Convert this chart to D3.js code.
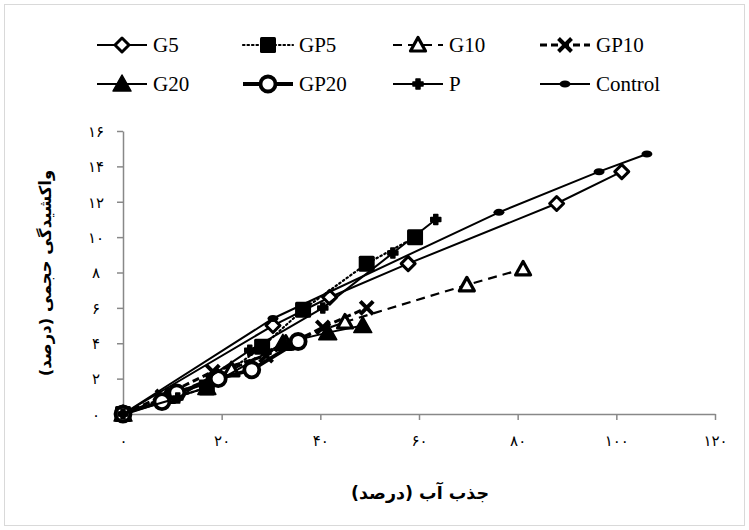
<!DOCTYPE html>
<html><head><meta charset="utf-8">
<script src="https://cdn.jsdelivr.net/npm/d3@7"></script>
<style>body{margin:0;background:#fff}svg{display:block}</style>
</head><body>
<script>
// ---- data ----
const seriesNames = ["G5","GP5","G10","GP10","G20","GP20","P","Control"];
const G5_x = [0, 30.4, 41.9, 57.8, 87.9, 101.1];
const G5_y = [0, 5.0, 6.6, 8.5, 11.9, 13.7];
const GP5_x = [0, 17.0, 28.2, 36.5, 49.4, 59.2];
const GP5_y = [0, 1.5, 3.8, 5.9, 8.5, 10.0];
const G10_x = [0, 9.0, 22.0, 33.0, 45.0, 69.7, 81.1];
const G10_y = [0, 1.0, 2.5, 4.0, 5.2, 7.3, 8.2];
const GP10_x = [0, 8.0, 18.2, 29.0, 40.5, 49.4];
const GP10_y = [0, 1.0, 2.4, 3.3, 4.9, 6.0];
const G20_x = [0, 17.0, 32.4, 41.5, 48.6];
const G20_y = [0, 1.5, 4.0, 4.6, 5.0];
const GP20_x = [0, 7.9, 10.9, 19.3, 26.1, 35.5];
const GP20_y = [0, 0.7, 1.2, 2.0, 2.5, 4.1];
const P_x = [0, 11.1, 25.7, 40.5, 54.7, 63.4];
const P_y = [0, 0.9, 3.6, 6.0, 9.1, 11.0];
const Control_x = [0, 30.4, 76.2, 96.5, 106.2];
const Control_y = [0, 5.4, 11.4, 13.7, 14.7];
const xTicks = [0, 20, 40, 60, 80, 100, 120];
const yTicks = [0, 2, 4, 6, 8, 10, 12, 14, 16];
const xTitle = "جذب آب (درصد)";
const yTitle = "واکشیدگی حجمی (درصد)";

const xs = {G5:G5_x,GP5:GP5_x,G10:G10_x,GP10:GP10_x,G20:G20_x,GP20:GP20_x,P:P_x,Control:Control_x};
const ys = {G5:G5_y,GP5:GP5_y,G10:G10_y,GP10:GP10_y,G20:G20_y,GP20:GP20_y,P:P_y,Control:Control_y};

const styles = {
  G5:{w:2, dash:null, marker:"diamond"},
  GP5:{w:2.2, dash:"1.5,3", cap:"round", marker:"square"},
  G10:{w:2.2, dash:"9,6", marker:"triOpen"},
  GP10:{w:3, dash:"7,4", marker:"x"},
  G20:{w:2, dash:null, marker:"triFill"},
  GP20:{w:3.8, dash:null, marker:"circle"},
  P:{w:2, dash:null, marker:"plusdot"},
  Control:{w:2, dash:null, marker:"ellipse"}
};

const fa = n => String(n).replace(/\d/g, d => "۰۱۲۳۴۵۶۷۸۹"[d]);

const W = 749, H = 530;
const svg = d3.select("body").append("svg").attr("width", W).attr("height", H);
svg.append("rect").attr("x",4.5).attr("y",4.5).attr("width",740).attr("height",521)
  .attr("fill","#fff").attr("stroke","#d9d9d9").attr("stroke-width",1);

const x = d3.scaleLinear().domain([0,120]).range([123,715]);
const y = d3.scaleLinear().domain([0,16]).range([414,131]);

// axes
const gx = svg.append("g").attr("transform","translate(0,414)")
  .call(d3.axisBottom(x).tickValues(xTicks).tickSize(6).tickSizeOuter(0).tickFormat(fa));
const gy = svg.append("g").attr("transform","translate(123,0)")
  .call(d3.axisLeft(y).tickValues(yTicks).tickSize(6).tickSizeOuter(0).tickFormat(fa));
[gx,gy].forEach(g=>{
  g.select(".domain").attr("stroke","#888").attr("stroke-width",1.5);
  g.selectAll(".tick line").attr("stroke","#888").attr("stroke-width",1.5);
  g.selectAll("text").attr("font-family","DejaVu Sans").attr("font-size",15).attr("fill","#000");
});
gx.selectAll("text").attr("dy",null).attr("y",32);
gy.selectAll("text").attr("x",-27).attr("text-anchor","middle").attr("dy","0.35em");

svg.append("text").attr("x",420).attr("y",499).attr("text-anchor","middle")
  .attr("font-family","DejaVu Sans").attr("font-weight","bold").attr("font-size",17.5)
  .attr("direction","rtl").text(xTitle);
svg.append("text").attr("transform","translate(51,273) rotate(-90)").attr("text-anchor","middle")
  .attr("font-family","DejaVu Sans").attr("font-weight","bold").attr("font-size",16.5)
  .attr("direction","rtl").text(yTitle);

function drawMarker(g, type, cx, cy) {
  const m = g.append("g").attr("transform",`translate(${cx},${cy})`);
  switch(type){
    case "diamond": m.append("path").attr("d","M0,-7L7,0L0,7L-7,0Z").attr("fill","#fff").attr("stroke","#000").attr("stroke-width",3).attr("stroke-linejoin","round"); break;
    case "square": m.append("rect").attr("x",-8).attr("y",-8).attr("width",16).attr("height",16).attr("rx",1.5).attr("fill","#000"); break;
    case "triOpen": m.append("path").attr("d","M0,-7.5L7.5,6L-7.5,6Z").attr("fill","#fff").attr("stroke","#000").attr("stroke-width",3.2).attr("stroke-linejoin","round"); break;
    case "triFill": m.append("path").attr("d","M0,-9L9,7L-9,7Z").attr("fill","#000").attr("stroke","#000").attr("stroke-width",1.5).attr("stroke-linejoin","round"); break;
    case "x": m.append("path").attr("d","M-6.5,-6.5L6.5,6.5M-6.5,6.5L6.5,-6.5").attr("stroke","#000").attr("stroke-width",4); break;
    case "circle": m.append("circle").attr("r",7.5).attr("fill","#fff").attr("stroke","#000").attr("stroke-width",3.8); break;
    case "plusdot": m.append("path").attr("d","M-2,-5H2V-2H5V2H2V5H-2V2H-5V-2H-2Z").attr("fill","#000").attr("stroke","#000").attr("stroke-width",1.5).attr("stroke-linejoin","round"); break;
    case "ellipse": m.append("ellipse").attr("rx",5.5).attr("ry",3.5).attr("fill","#000"); break;
  }
}

const line = d3.line();
const plot = svg.append("g");
seriesNames.forEach(name=>{
  const st = styles[name];
  const pts = xs[name].map((v,i)=>[x(v), y(ys[name][i])]);
  plot.append("path").attr("d", line(pts)).attr("fill","none").attr("stroke","#000")
    .attr("stroke-width", st.w).attr("stroke-dasharray", st.dash).attr("stroke-linecap", st.cap||"butt");
  pts.forEach(p=>drawMarker(plot, st.marker, p[0], p[1]));
});

// legend
const legCols = [97, 243, 393, 540];
const legRows = [45, 84];
seriesNames.forEach((name,i)=>{
  const st = styles[name];
  const lx = legCols[i%4], ly = legRows[Math.floor(i/4)];
  const g = svg.append("g");
  g.append("line").attr("x1",lx).attr("x2",lx+50).attr("y1",ly).attr("y2",ly)
    .attr("stroke","#000").attr("stroke-width",st.w).attr("stroke-dasharray",st.dash).attr("stroke-linecap", st.cap||"butt");
  drawMarker(g, st.marker, lx+25, ly);
  g.append("text").attr("x",lx+56).attr("y",ly).attr("dy","0.35em")
    .attr("font-family","Liberation Serif").attr("font-size",21).text(name);
});
</script>
</body></html>
